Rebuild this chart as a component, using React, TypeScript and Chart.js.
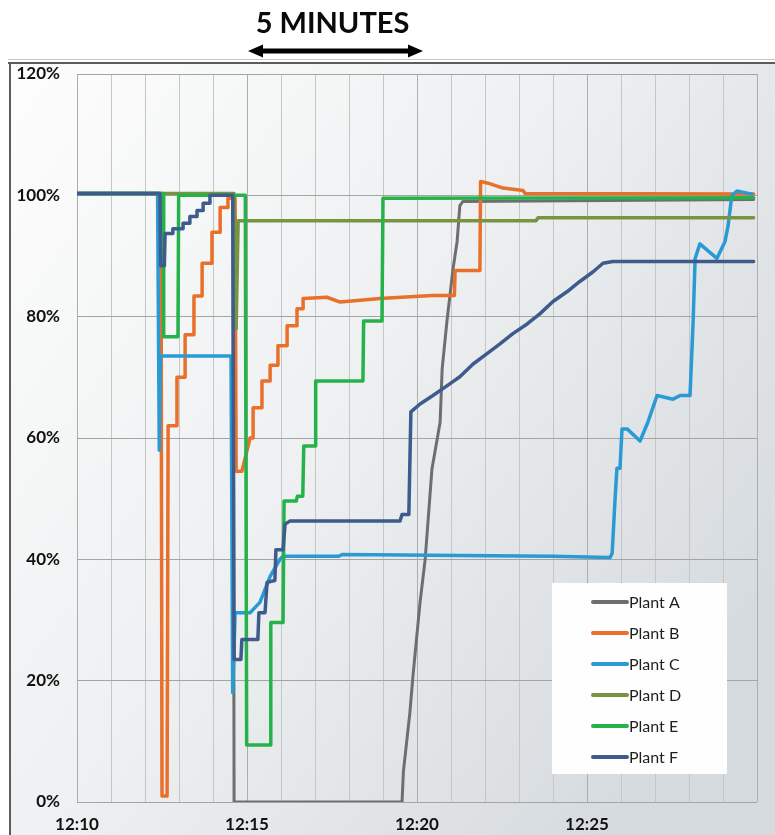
import React, { useEffect, useRef } from 'react';
import { Chart, registerables } from 'chart.js';

Chart.register(...registerables);

// ---- data (minutes after 12:10, percent) ----
const plantNames = ['Plant A', 'Plant B', 'Plant C', 'Plant D', 'Plant E', 'Plant F'];
const plantColors = ['#6e6e6e', '#e8702b', '#2a9ad5', '#789440', '#25b24b', '#3d5b8c'];
const xTickLabels = ['12:10', '12:15', '12:20', '12:25'];
const yTickValues = [0, 20, 40, 60, 80, 100, 120];

const plantATimes = [0, 4.59, 4.62, 9.56, 9.6, 9.79, 9.88, 10.09, 10.24, 10.44, 10.68, 10.74, 10.88, 11.06, 11.18, 11.26, 11.35, 19.9];
const plantAValues = [100.3, 100.3, 0, 0, 5, 14.7, 20.7, 32.9, 40, 54.9, 62.6, 71.4, 79.2, 87.9, 92.4, 98.3, 99, 99.3];

const plantBTimes = [0, 2.47, 2.5, 2.65, 2.68, 2.94, 2.94, 3.18, 3.18, 3.44, 3.44, 3.68, 3.68, 3.97, 3.97, 4.21, 4.21, 4.44, 4.44, 4.65, 4.68, 4.85, 5.09, 5.18, 5.18, 5.44, 5.44, 5.68, 5.68, 5.91, 5.91, 6.18, 6.18, 6.47, 6.47, 6.65, 6.65, 7.35, 7.74, 8.91, 10.45, 11.1, 11.12, 11.85, 11.87, 12.09, 12.53, 13.12, 13.18, 19.9];
const plantBValues = [100.3, 100.3, 1, 1, 62, 62, 70, 70, 77, 77, 83.4, 83.4, 88.8, 88.8, 93.9, 93.9, 98, 98, 99.5, 99.5, 54.5, 54.5, 60, 60, 65, 65, 69.4, 69.4, 72, 72, 75.2, 75.2, 78.5, 78.5, 81.3, 81.3, 83, 83.2, 82.4, 83, 83.5, 83.5, 87.6, 87.6, 102.3, 102, 101.2, 100.8, 100.3, 100.2];

const plantCTimes = [0, 2.37, 2.42, 2.45, 4.53, 4.58, 4.65, 5.09, 5.38, 5.68, 5.97, 6.06, 7.7, 7.8, 14.0, 15.68, 15.74, 15.82, 15.88, 15.97, 16.03, 16.18, 16.56, 16.79, 17.06, 17.53, 17.74, 18.03, 18.12, 18.18, 18.32, 18.82, 19.06, 19.15, 19.26, 19.41, 19.85];
const plantCValues = [100.3, 100.3, 58, 73.5, 73.5, 18, 31.2, 31.2, 32.9, 37.2, 40, 40.5, 40.5, 40.8, 40.5, 40.3, 41, 49.4, 55, 55, 61.5, 61.5, 59.5, 62.6, 67, 66.4, 67, 67, 79, 89.6, 92, 89.6, 92.4, 95, 100, 100.7, 100.2];

const plantDTimes = [0, 4.62, 4.68, 4.74, 13.5, 13.56, 19.9];
const plantDValues = [100.3, 100.3, 78, 95.8, 95.8, 96.3, 96.3];

const plantETimes = [0, 2.53, 2.55, 2.97, 2.99, 4.95, 4.99, 5.68, 5.7, 6.06, 6.09, 6.45, 6.48, 6.64, 6.67, 7.0, 7.02, 8.41, 8.43, 8.97, 9.0, 19.9];
const plantEValues = [100.3, 100.3, 76.7, 76.7, 100, 100, 9.4, 9.4, 29.6, 29.6, 49.6, 49.6, 50.4, 50.4, 58.7, 58.7, 69.4, 69.4, 79.3, 79.3, 99.5, 99.6];

const plantFTimes = [0, 2.44, 2.46, 2.57, 2.59, 2.82, 2.82, 3.12, 3.12, 3.32, 3.32, 3.53, 3.53, 3.71, 3.71, 3.91, 3.91, 4.58, 4.62, 4.82, 4.85, 5.32, 5.35, 5.53, 5.59, 5.82, 5.85, 6.06, 6.12, 6.26, 9.5, 9.56, 9.76, 9.82, 10.09, 10.47, 10.88, 11.26, 11.65, 12.06, 12.44, 12.82, 13.24, 13.62, 14.0, 14.41, 14.79, 15.18, 15.47, 15.76, 19.9];
const plantFValues = [100.3, 100.3, 88.4, 88.4, 93.7, 93.7, 94.5, 94.5, 95.4, 95.4, 96.5, 96.5, 97.5, 97.5, 98.7, 98.7, 100, 100, 23.5, 23.5, 26.8, 26.8, 31.2, 31.2, 36.2, 36.5, 41.6, 41.6, 45.8, 46.3, 46.3, 47.4, 47.4, 64.3, 65.6, 67, 68.6, 70.1, 72.2, 73.9, 75.5, 77.2, 78.8, 80.5, 82.5, 84.1, 85.8, 87.4, 88.8, 89.1, 89.1];

const allTimes = [plantATimes, plantBTimes, plantCTimes, plantDTimes, plantETimes, plantFTimes];
const allValues = [plantAValues, plantBValues, plantCValues, plantDValues, plantEValues, plantFValues];

const titleText = '5 MINUTES';
const arrowFrom = 5;
const arrowTo = 10;

const FONT = 'Lato, "Open Sans", "DejaVu Sans", sans-serif';

const decorPlugin = {
  id: 'decor',
  beforeDraw(chart: any) {
    const { ctx, width, height } = chart;
    ctx.save();
    ctx.fillStyle = '#ffffff';
    ctx.fillRect(0, 0, width, height);
    const g = ctx.createLinearGradient(10, 63, width, height * 0.7);
    g.addColorStop(0, '#fdfdfd');
    g.addColorStop(0.5, '#eef0f1');
    g.addColorStop(1, '#d6dbdf');
    ctx.fillStyle = g;
    ctx.fillRect(10, 63, width - 10, height - 63);
    ctx.strokeStyle = '#c8c8c8';
    ctx.lineWidth = 1;
    ctx.beginPath();
    ctx.moveTo(8, 59.5);
    ctx.lineTo(width, 59.5);
    ctx.stroke();
    ctx.strokeStyle = '#5c5c5c';
    ctx.lineWidth = 2;
    ctx.beginPath();
    ctx.moveTo(8, 63);
    ctx.lineTo(width, 63);
    ctx.moveTo(10, 62);
    ctx.lineTo(10, height);
    ctx.stroke();
    ctx.restore();
  },
  afterDraw(chart: any) {
    const { ctx } = chart;
    const xs = chart.scales.x;
    ctx.save();
    // title + arrow
    const left = xs.getPixelForValue(arrowFrom) + 1;
    const right = xs.getPixelForValue(arrowTo) + 6;
    const cx = (left + right) / 2 - 3;
    ctx.fillStyle = '#0a0a0a';
    ctx.font = 'bold 29px ' + FONT;
    ctx.textAlign = 'center';
    ctx.textBaseline = 'alphabetic';
    ctx.fillText(titleText, cx, 33);
    const ay = 51;
    ctx.strokeStyle = '#000000';
    ctx.lineWidth = 5;
    ctx.beginPath();
    ctx.moveTo(left + 8, ay);
    ctx.lineTo(right - 8, ay);
    ctx.stroke();
    ctx.fillStyle = '#000000';
    ctx.beginPath();
    ctx.moveTo(left, ay);
    ctx.lineTo(left + 15, ay - 6.5);
    ctx.lineTo(left + 15, ay + 6.5);
    ctx.closePath();
    ctx.fill();
    ctx.beginPath();
    ctx.moveTo(right, ay);
    ctx.lineTo(right - 15, ay - 6.5);
    ctx.lineTo(right - 15, ay + 6.5);
    ctx.closePath();
    ctx.fill();

    // legend
    ctx.fillStyle = 'rgba(255,255,255,0.96)';
    ctx.fillRect(552, 583, 175, 191);
    ctx.font = '16px ' + FONT;
    ctx.textAlign = 'left';
    ctx.textBaseline = 'middle';
    plantNames.forEach((name, i) => {
      const y = 602 + i * 31;
      ctx.strokeStyle = plantColors[i];
      ctx.lineWidth = 4;
      ctx.lineCap = 'round';
      ctx.beginPath();
      ctx.moveTo(593, y);
      ctx.lineTo(627, y);
      ctx.stroke();
      ctx.fillStyle = '#1e1e1e';
      ctx.fillText(name, 629, y + 1);
    });
    ctx.restore();
  },
};

export default function App() {
  const ref = useRef<HTMLCanvasElement>(null);
  useEffect(() => {
    if (!ref.current) return;
    const datasets = plantNames.map((name, i) => ({
      label: name,
      data: allTimes[i].map((t, j) => ({ x: t, y: allValues[i][j] })),
      borderColor: plantColors[i],
      backgroundColor: plantColors[i],
      borderWidth: i === 0 ? 3 : 3.5,
      pointRadius: 0,
      tension: 0,
      fill: false,
      borderJoinStyle: 'round' as const,
      borderCapStyle: 'round' as const,
      order: plantNames.length - i,
    }));
    const chart = new Chart(ref.current, {
      type: 'line',
      data: { datasets },
      options: {
        animation: false,
        responsive: true,
        maintainAspectRatio: false,
        layout: { padding: { top: 74, right: 18, left: 0, bottom: 0 } },
        plugins: {
          legend: { display: false },
          tooltip: { enabled: false },
          title: { display: false },
        },
        scales: {
          x: {
            type: 'linear',
            min: 0,
            max: 20,
            afterFit: (s: any) => {
              s.height = 33;
            },
            ticks: {
              stepSize: 1,
              autoSkip: false,
              maxRotation: 0,
              padding: 12,
              color: '#111111',
              font: { family: FONT, size: 17, weight: 'bold' },
              callback: (v: any) => {
                const n = Number(v);
                return n % 5 === 0 && n / 5 < xTickLabels.length ? xTickLabels[n / 5] : '';
              },
            },
            grid: {
              drawTicks: false,
              lineWidth: 1,
              color: (c: any) => (c.tick && c.tick.value % 5 === 0 ? '#adadad' : '#c6c6c6'),
            },
            border: { display: false },
          },
          y: {
            min: yTickValues[0],
            max: yTickValues[yTickValues.length - 1],
            afterFit: (s: any) => {
              s.width = 77;
            },
            afterBuildTicks: (s: any) => {
              s.ticks = yTickValues.map((v) => ({ value: v }));
            },
            ticks: {
              padding: 17,
              color: '#111111',
              font: { family: FONT, size: 17, weight: 'bold' },
              callback: (v: any) => v + '%',
            },
            grid: { drawTicks: false, color: '#a4a4a4', lineWidth: 1 },
            border: { display: false },
          },
        },
      },
      plugins: [decorPlugin],
    });
    return () => chart.destroy();
  }, []);
  return (
    <div style={{ position: 'absolute', left: 0, top: 0, width: 775, height: 835 }}>
      <canvas ref={ref} />
    </div>
  );
}
